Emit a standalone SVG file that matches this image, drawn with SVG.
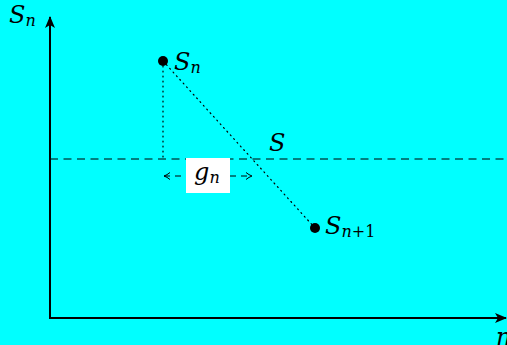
<svg xmlns="http://www.w3.org/2000/svg" width="507" height="345" viewBox="0 0 507 345">
<style>
.ax{stroke:#000;stroke-width:2;fill:none}
.dot{stroke:#000;stroke-width:1.2;stroke-dasharray:1 4;stroke-linecap:round;fill:none}
</style>
<defs>
<marker id="ah" viewBox="0 0 12 10" refX="11" refY="5" markerWidth="12" markerHeight="10" markerUnits="userSpaceOnUse" orient="auto">
<path d="M0,0 L12,5 L0,10 L3,5 Z" fill="#000"/>
</marker>
<marker id="oa" viewBox="0 0 8 10" refX="7" refY="5" markerWidth="8" markerHeight="10" markerUnits="userSpaceOnUse" orient="auto-start-reverse">
<path d="M1,1.5 Q4,4 7,5 Q4,6 1,8.5" fill="none" stroke="#000" stroke-width="1"/>
</marker>
</defs>
<rect width="507" height="345" fill="#00ffff"/>
<g id="connectors">
<line class="ax" x1="50" y1="319" x2="50" y2="17" marker-end="url(#ah)"/>
<line class="ax" x1="49" y1="318" x2="506" y2="318" marker-end="url(#ah)"/>
<line x1="50" y1="159" x2="507" y2="159" stroke="#000" stroke-width="1" stroke-dasharray="8 5.5"/>
<line class="dot" x1="163" y1="61" x2="163" y2="159"/>
<line class="dot" x1="163" y1="61" x2="315" y2="228"/>
<line x1="164" y1="176" x2="252" y2="176" stroke="#000" stroke-width="1" stroke-dasharray="6 5" marker-start="url(#oa)" marker-end="url(#oa)"/>
</g>
<g id="labels" font-family="DejaVu Serif, serif" font-style="italic" font-size="24" fill="#000">
<g id="label-yaxis"><text x="9" y="23">S<tspan font-size="16" dy="3">n</tspan></text></g>
<g id="label-xaxis"><text x="496" y="345">n</text></g>
<g id="node-Sn">
<circle cx="163" cy="61" r="5" fill="#000"/>
<text x="174" y="70">S<tspan font-size="16" dy="3">n</tspan></text>
</g>
<g id="node-Sn1">
<circle cx="315" cy="228" r="5" fill="#000"/>
<text x="325" y="234">S<tspan font-size="16" dy="3">n</tspan><tspan font-size="16" font-style="normal">+1</tspan></text>
</g>
<g id="label-S"><text x="269" y="151">S</text></g>
<g id="label-gn">
<rect x="186" y="158" width="44" height="35" fill="#fff"/>
<text x="194" y="180">g<tspan font-size="16" dy="3">n</tspan></text>
</g>
</g>
</svg>
